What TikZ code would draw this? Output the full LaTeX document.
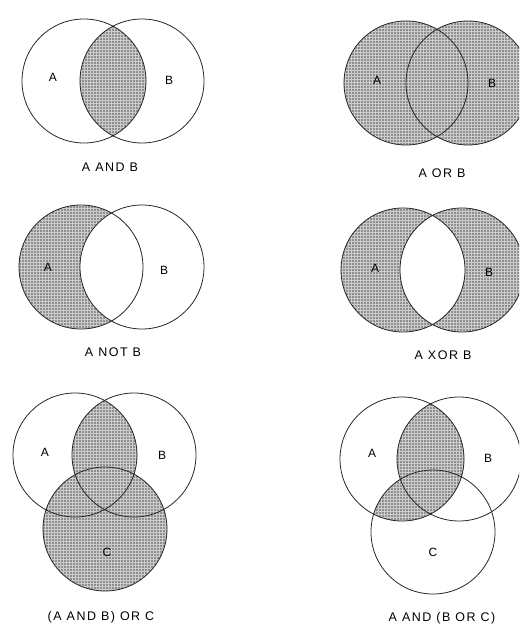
\documentclass[tikz,border=0pt]{standalone}
\usepackage{fontspec}
\setmainfont{Liberation Sans}
\newfontfamily\capfont[LetterSpace=12]{Liberation Sans}
\usetikzlibrary{patterns}
\tikzset{
  shaded/.style={fill=gray!88, postaction={pattern=grid, pattern color=gray!40}},
  ring/.style={draw=black!85, line width=0.8pt},
  lbl/.style={font=\fontsize{12}{12}\selectfont, inner sep=0pt},
  captxt/.style={font=\capfont\fontsize{12.5}{12.5}\selectfont, inner sep=0pt},
}
\begin{document}
\begin{tikzpicture}[x=1pt,y=-1pt]
\useasboundingbox (0,0) rectangle (519,628);
\clip (0,0) rectangle (519,628);
\def\R{62}
% ---------- A AND B ----------
\begin{scope}
  \clip (84,81) circle (\R);
  \fill[shaded] (142,81) circle (\R);
\end{scope}
\draw[ring] (84,81) circle (\R);
\draw[ring] (142,81) circle (\R);
\node[lbl] (a1) at (53,77) {A};
\node[lbl] (b1) at (169,80) {B};
\node[captxt] (c1) at (110,167) {A AND B};
% ---------- A OR B ----------
\fill[shaded] (406,83) circle (\R) (468,83) circle (\R);
\draw[ring] (406,83) circle (\R);
\draw[ring] (468,83) circle (\R);
\node[lbl] (a2) at (377,80) {A};
\node[lbl] (b2) at (492,83) {B};
\node[captxt] (c2) at (442,173) {A OR B};
% ---------- A NOT B ----------
\fill[shaded] (81,267) circle (\R);
\begin{scope}
  \clip (81,267) circle (\R);
  \fill[white] (142,267) circle (\R);
\end{scope}
\draw[ring] (81,267) circle (\R);
\draw[ring] (142,267) circle (\R);
\node[lbl] (a3) at (48,267) {A};
\node[lbl] (b3) at (164,270) {B};
\node[captxt] (c3) at (113,352) {A NOT B};
% ---------- A XOR B ----------
\fill[shaded, even odd rule] (403,270) circle (\R) (462,270) circle (\R);
\draw[ring] (403,270) circle (\R);
\draw[ring] (462,270) circle (\R);
\node[lbl] (a4) at (375,268) {A};
\node[lbl] (b4) at (489,272) {B};
\node[captxt] (c4) at (443,355) {A XOR B};
% ---------- (A AND B) OR C ----------
\fill[shaded] (105,529) circle (\R);
\begin{scope}
  \clip (75,455) circle (\R);
  \fill[shaded] (134,455) circle (\R);
\end{scope}
\draw[ring] (75,455) circle (\R);
\draw[ring] (134,455) circle (\R);
\draw[ring] (105,529) circle (\R);
\node[lbl] (a5) at (45,452) {A};
\node[lbl] (b5) at (162,455) {B};
\node[lbl] (cc5) at (107,552) {C};
\node[captxt] (c5) at (101,617) {(A AND B) OR C};
% ---------- A AND (B OR C) ----------
\begin{scope}
  \clip (402,459) circle (\R);
  \fill[shaded] (459,459) circle (\R) (433,532) circle (\R);
\end{scope}
\draw[ring] (402,459) circle (\R);
\draw[ring] (459,459) circle (\R);
\draw[ring] (433,532) circle (\R);
\node[lbl] (a6) at (372,453) {A};
\node[lbl] (b6) at (488,458) {B};
\node[lbl] (cc6) at (433,552) {C};
\node[captxt] (c6) at (442,618) {A AND (B OR C)};
\end{tikzpicture}
\end{document}
